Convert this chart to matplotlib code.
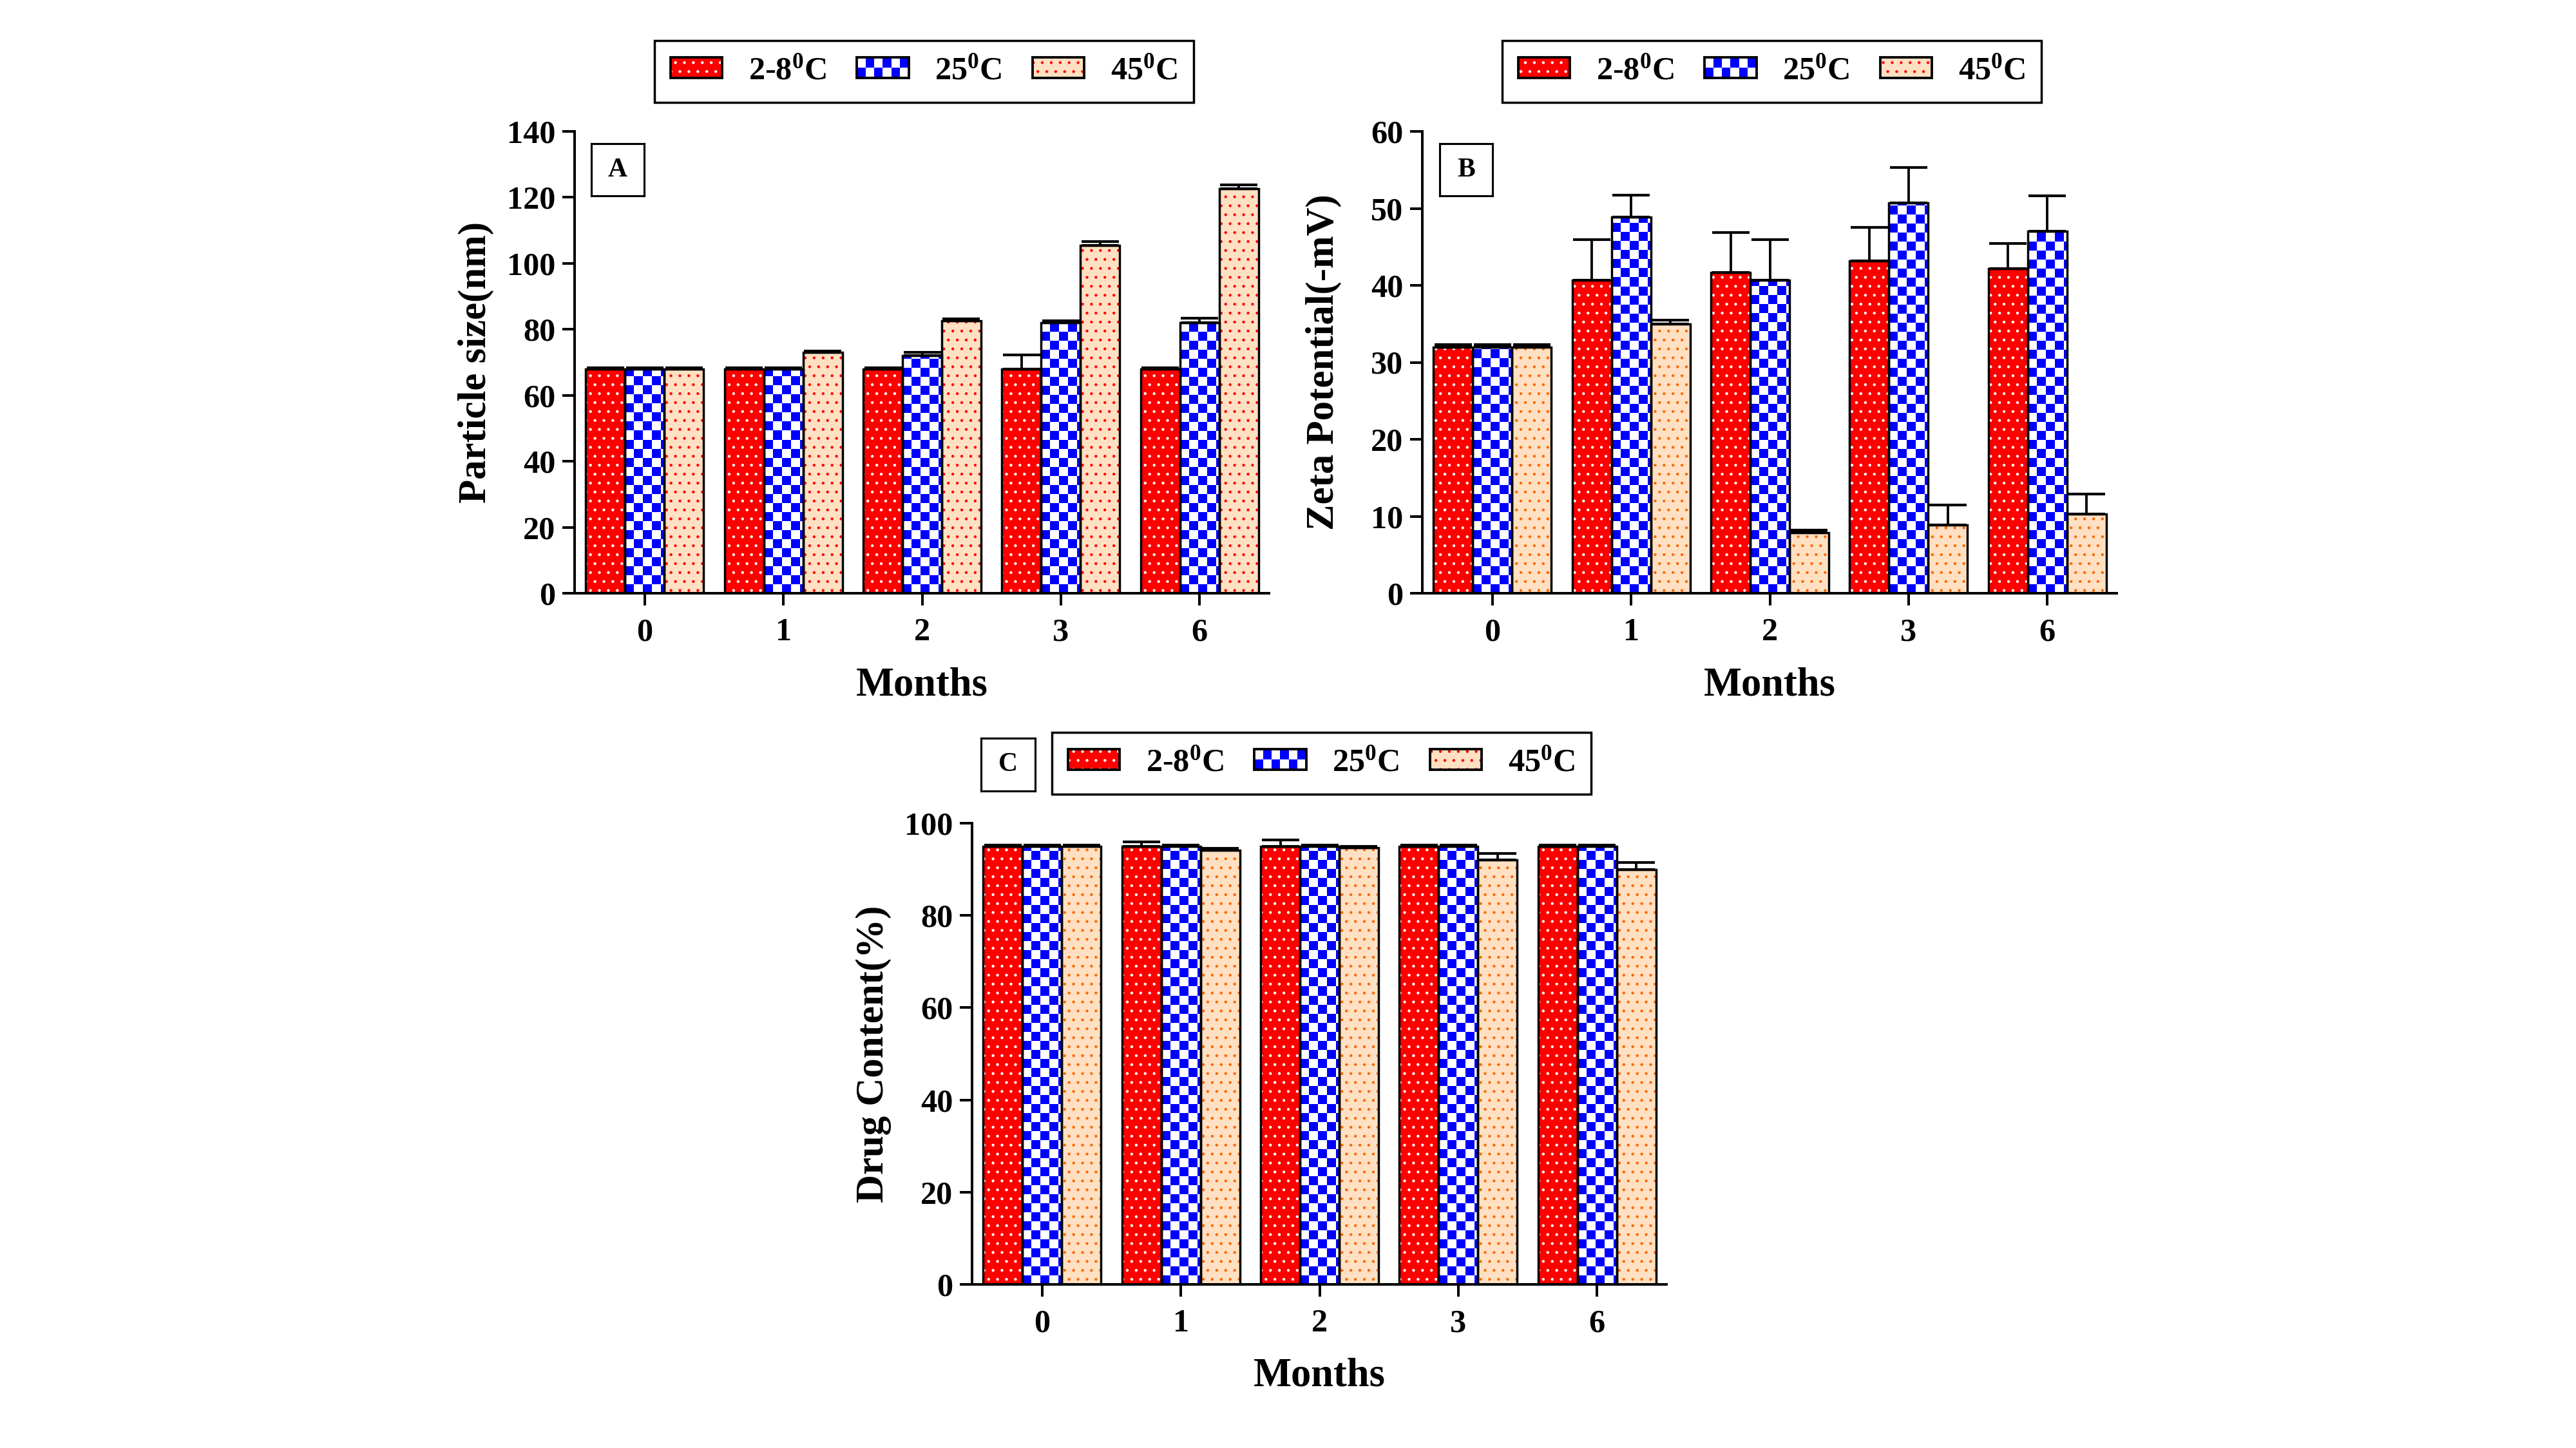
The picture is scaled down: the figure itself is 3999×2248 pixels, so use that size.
import numpy as np
import matplotlib
matplotlib.use('Agg')
from matplotlib import pyplot as plt
from matplotlib.patches import Rectangle
from matplotlib.colors import ListedColormap
from matplotlib.legend_handler import HandlerBase

# ---------------- data ----------------
months = ['0', '1', '2', '3', '6']
temp_labels = ['2-8$^{0}$C', '25$^{0}$C', '45$^{0}$C']

size_cold = [68, 68, 68, 68, 68]
size_cold_err = [0.4, 0.4, 0.4, 4.2, 0.4]
size_room = [68, 68, 72, 82, 82]
size_room_err = [0.4, 0.4, 1.1, 0.6, 1.3]
size_hot = [68, 73, 82.5, 105.5, 122.7]
size_hot_err = [0.4, 0.5, 0.6, 1.2, 1.1]

zeta_cold = [32.0, 40.7, 41.7, 43.2, 42.2]
zeta_cold_err = [0.3, 5.2, 5.2, 4.3, 3.2]
zeta_room = [32.0, 48.9, 40.7, 50.7, 47.0]
zeta_room_err = [0.3, 2.8, 5.2, 4.6, 4.6]
zeta_hot = [32.0, 35.0, 7.9, 8.9, 10.3]
zeta_hot_err = [0.3, 0.5, 0.3, 2.6, 2.6]

drug_cold = [95.0, 95.0, 95.0, 95.0, 95.0]
drug_cold_err = [0.3, 1.0, 1.4, 0.3, 0.3]
drug_room = [95.0, 95.0, 95.0, 95.0, 95.0]
drug_room_err = [0.3, 0.3, 0.3, 0.3, 0.3]
drug_hot = [95.0, 94.1, 94.7, 92.0, 89.9]
drug_hot_err = [0.3, 0.4, 0.3, 1.5, 1.6]

# ---------------- style ----------------
plt.rcParams['font.family'] = ['Liberation Serif', 'DejaVu Serif']
plt.rcParams['font.weight'] = 'bold'
plt.rcParams['axes.labelweight'] = 'bold'
plt.rcParams['mathtext.fontset'] = 'custom'
plt.rcParams['mathtext.rm'] = 'Liberation Serif:bold'
plt.rcParams['mathtext.bf'] = 'Liberation Serif:bold'
plt.rcParams['mathtext.it'] = 'Liberation Serif:bold'
plt.rcParams['mathtext.default'] = 'bf'
plt.rcParams['hatch.linewidth'] = 0.45

RED = '#FF0000'
BLUE = '#0000FF'
BEIGE = '#FFE0C2'
ORANGE = '#FF6600'

W, H, DPI = 3999, 2248, 250
fig = plt.figure(figsize=(W / DPI, H / DPI), dpi=DPI)
fig.patch.set_facecolor('white')


def px_axes(left, top, right, bottom):
    return fig.add_axes([left / W, 1 - bottom / H, (right - left) / W, (bottom - top) / H])


class Swatch(object):
    def __init__(self, face, dot=None, checker=False):
        self.face = face
        self.dot = dot
        self.checker = checker


class SwatchHandler(HandlerBase):
    def create_artists(self, legend, orig, xdescent, ydescent, width, height, fontsize, trans):
        x0, y0 = -xdescent, -ydescent
        arts = []
        if orig.dot is not None:
            arts.append(Rectangle((x0, y0), width, height, facecolor=orig.face, hatch='...',
                                  edgecolor=orig.dot, linewidth=0, transform=trans))
        else:
            arts.append(Rectangle((x0, y0), width, height, facecolor=orig.face,
                                  linewidth=0, transform=trans))
        if orig.checker:
            nc, nr = 6, 2
            for i in range(nr):
                for j in range(nc):
                    if (i + j) % 2 == 0:
                        arts.append(Rectangle((x0 + j * width / nc, y0 + i * height / nr),
                                              width / nc, height / nr, facecolor=BLUE,
                                              linewidth=0, transform=trans))
        arts.append(Rectangle((x0, y0), width, height, fill=False, edgecolor='black',
                              linewidth=1.1, transform=trans))
        return arts


def checker_fill(ax, bar, cell_px=14):
    xr = ax.get_xlim()
    yr = ax.get_ylim()
    cw = cell_px * (xr[1] - xr[0]) / ax.bbox.width
    ch = cell_px * (yr[1] - yr[0]) / ax.bbox.height
    x0, y0 = bar.get_x(), bar.get_y()
    ncol = int(np.ceil(bar.get_width() / cw))
    nrow = max(int(np.ceil(bar.get_height() / ch)), 1)
    grid = np.add.outer(np.arange(nrow), np.arange(ncol)) % 2
    im = ax.imshow(grid, extent=[x0, x0 + ncol * cw, y0, y0 + nrow * ch], origin='lower',
                   cmap=ListedColormap([BLUE, 'white']), interpolation='nearest',
                   aspect='auto', zorder=2)
    im.set_clip_path(bar)


def draw_panel(ax, series, errs, ymax, ystep, ylabel, hot_dot, letter_box):
    x = np.arange(len(months))
    width = 0.283
    offsets = [-width, 0, width]
    ax.set_xlim(-0.505, 4.5)
    ax.set_ylim(0, ymax)

    # red with white dots
    ax.bar(x + offsets[0], series[0], width, facecolor=RED, hatch='...', edgecolor='white',
           linewidth=0, zorder=1)
    # blue / white checkerboard
    bars = ax.bar(x + offsets[1], series[1], width, facecolor='white', linewidth=0, zorder=1)
    for b in bars:
        checker_fill(ax, b)
    # beige with coloured dots
    ax.bar(x + offsets[2], series[2], width, facecolor=BEIGE, hatch='...', edgecolor=hot_dot,
           linewidth=0, zorder=1)
    # outlines and error bars
    for k in range(3):
        ax.bar(x + offsets[k], series[k], width, fill=False, edgecolor='black',
               linewidth=1.0, zorder=3)
        ax.errorbar(x + offsets[k], series[k], yerr=[np.zeros(len(x)), errs[k]], fmt='none',
                    ecolor='black', elinewidth=1.1, capsize=8.4, capthick=1.2, zorder=4)

    ax.set_xlim(-0.505, 4.5)
    ax.set_ylim(0, ymax)
    ax.set_yticks(np.arange(0, ymax + 1, ystep))
    ax.set_xticks(x)
    ax.set_xticklabels(months)
    for s in ['top', 'right']:
        ax.spines[s].set_visible(False)
    for s in ['left', 'bottom']:
        ax.spines[s].set_linewidth(1.15)
    ax.tick_params(direction='out', length=5.5, width=1.15, labelsize=14.5)
    ax.tick_params(axis='x', pad=5.5)
    ax.tick_params(axis='y', pad=3)
    ax.set_ylabel(ylabel, fontsize=17.5)
    ax.set_xlabel('Months', fontsize=18)
    ax.yaxis.set_label_coords(-0.116, 0.5)
    ax.xaxis.set_label_coords(0.5, -0.159)

    handles = [Swatch(RED, 'white'), Swatch('white', None, True), Swatch(BEIGE, RED)]
    leg = ax.legend(handles, temp_labels, handler_map={Swatch: SwatchHandler()},
                    loc='center', bbox_to_anchor=(0.503, 1.130), ncol=3, fontsize=14.5,
                    frameon=True, fancybox=False, framealpha=1, edgecolor='black',
                    handlelength=1.6, handleheight=0.6, handletextpad=0.8,
                    columnspacing=0.95, borderpad=0.5)
    leg.get_frame().set_linewidth(1.0)

    # panel letter in a square box
    bx = fig.add_axes(letter_box[0])
    bx.set_xticks([])
    bx.set_yticks([])
    for s in bx.spines.values():
        s.set_linewidth(0.9)
    bx.text(0.5, 0.5, letter_box[1], ha='center', va='center', fontsize=12,
            fontweight='bold', transform=bx.transAxes)


def box_rect(left, top, right, bottom):
    return [left / W, 1 - bottom / H, (right - left) / W, (bottom - top) / H]


axA = px_axes(892, 204, 1970, 921)
draw_panel(axA, [size_cold, size_room, size_hot], [size_cold_err, size_room_err, size_hot_err],
           140, 20, 'Particle size(nm)', RED, (box_rect(918, 223, 1000, 304), 'A'))

axB = px_axes(2208, 204, 3286, 921)
draw_panel(axB, [zeta_cold, zeta_room, zeta_hot], [zeta_cold_err, zeta_room_err, zeta_hot_err],
           60, 10, 'Zeta Potential(-mV)', ORANGE, (box_rect(2235, 223, 2317, 304), 'B'))

axC = px_axes(1509, 1278, 2587, 1994)
draw_panel(axC, [drug_cold, drug_room, drug_hot], [drug_cold_err, drug_room_err, drug_hot_err],
           100, 20, 'Drug Content(%)', ORANGE, (box_rect(1523, 1146, 1607, 1228), 'C'))

fig.savefig('out.png', dpi=DPI, facecolor='white')
